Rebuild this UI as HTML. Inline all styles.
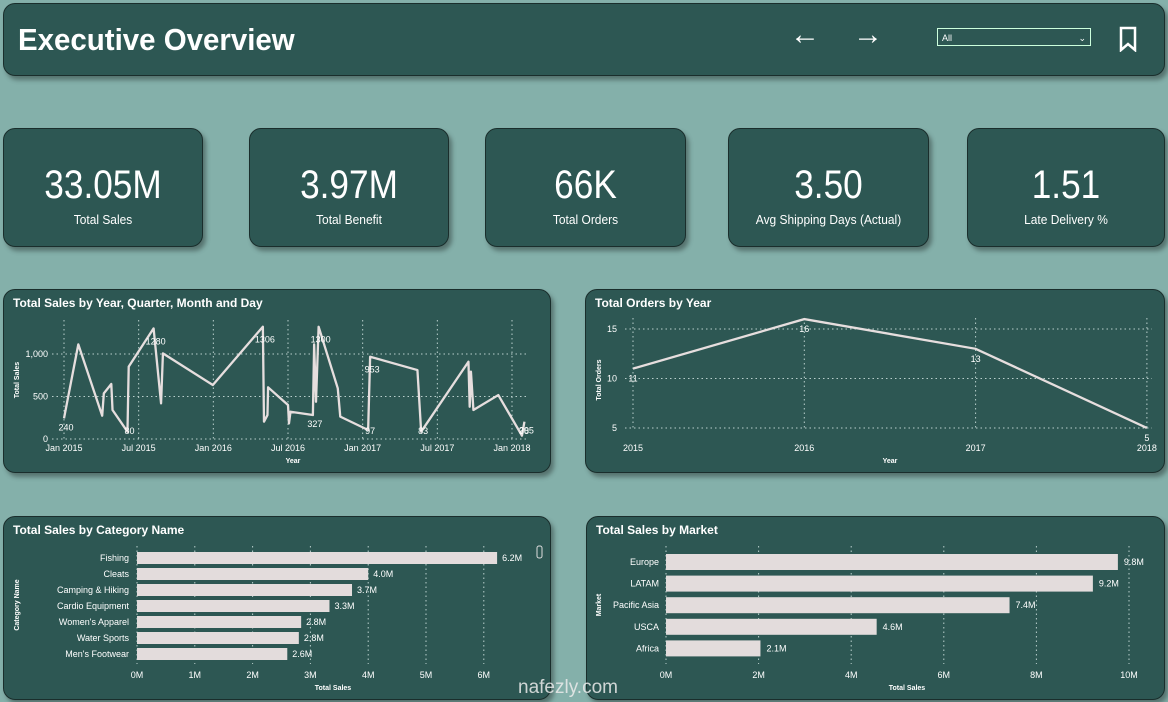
<!DOCTYPE html>
<html><head><meta charset="utf-8"><style>
body{margin:0;width:1168px;height:702px;background:#84b0aa;font-family:"Liberation Sans",sans-serif;position:relative;overflow:hidden}
.p{position:absolute;background:#2d5753;border:1px solid #1a2e2c;border-radius:12px;box-shadow:3px 4px 5px rgba(0,0,0,.35);box-sizing:border-box;color:#fff}
.kv{position:absolute;left:0;right:0;top:34px;text-align:center;font-size:40px;transform:scaleX(0.88)}
.kl{position:absolute;left:0;right:0;top:83px;text-align:center;font-size:13px;transform:scaleX(0.92)}
.t{position:absolute;left:9px;top:6px;font-size:12px;font-weight:bold}
svg{position:absolute;left:0;top:0}
svg text{font-family:"Liberation Sans",sans-serif;fill:#fff}
</style></head><body>
<div class="p" style="left:3px;top:3px;width:1162px;height:73px">
<div style="position:absolute;left:14px;top:18px;font-size:31px;font-weight:bold;transform:scaleX(0.95);transform-origin:left">Executive Overview</div>
<div style="position:absolute;left:786px;top:14px;font-size:30px">←</div>
<div style="position:absolute;left:849px;top:14px;font-size:30px">→</div>
<div style="position:absolute;left:933px;top:24px;width:154px;height:18px;border:1px solid #cfd;font-size:9px;line-height:18px;padding-left:4px;box-sizing:border-box">All<span style="position:absolute;right:4px;top:0">⌄</span></div>
<svg style="left:1114px;top:22px" width="20" height="26"><path d="M3 2h14v22l-7-6-7 6z" fill="none" stroke="#fff" stroke-width="2.5"/></svg>
</div>
<div class="p" style="left:3px;top:128px;width:200px;height:119px"><div class="kv">33.05M</div><div class="kl">Total Sales</div></div>
<div class="p" style="left:249px;top:128px;width:200px;height:119px"><div class="kv">3.97M</div><div class="kl">Total Benefit</div></div>
<div class="p" style="left:485px;top:128px;width:201px;height:119px"><div class="kv">66K</div><div class="kl">Total Orders</div></div>
<div class="p" style="left:728px;top:128px;width:201px;height:119px"><div class="kv">3.50</div><div class="kl">Avg Shipping Days (Actual)</div></div>
<div class="p" style="left:967px;top:128px;width:198px;height:119px"><div class="kv">1.51</div><div class="kl">Late Delivery %</div></div>

<div class="p" style="left:3px;top:289px;width:548px;height:184px"><div class="t">Total Sales by Year, Quarter, Month and Day</div></div>
<div class="p" style="left:585px;top:289px;width:580px;height:184px"><div class="t">Total Orders by Year</div></div>
<div class="p" style="left:3px;top:516px;width:548px;height:184px"><div class="t">Total Sales by Category Name</div></div>
<div class="p" style="left:586px;top:516px;width:579px;height:184px"><div class="t">Total Sales by Market</div></div>
<svg id="c" width="1168" height="702"></svg>
<script>
// sales line chart: months since Jan 2015, values
const salesMonths=[0,1.15,3.07,3.2,3.8,3.9,5.1,5.2,7.2,7.8,7.95,11.96,15.98,16.07,16.35,16.4,18,18.08,18.2,20,20.1,20.25,20.46,22,22.2,24.44,24.6,28.4,28.7,32.5,32.6,32.7,32.9,34.9,36.8,37];
const salesValues=[243,1113,274,537,647,341,86,851,1301,419,1007,635,1321,204,282,608,400,184,321,282,1113,439,1321,596,263,106,968,811,86,909,380,792,341,517,39,204];
const salesLabels=[[0,"240"],[6,"80"],[8,"1280"],[12,"1306"],[22,"1300"],[19,"327"],[26,"953"],[25,"97"],[28,"83"],[35,"205"],[34,"38"]];
const salesXTicks=["Jan 2015","Jul 2015","Jan 2016","Jul 2016","Jan 2017","Jul 2017","Jan 2018"];
const salesYTicks=[0,500,1000];
const orderYears=[2015,2016,2017,2018];
const orderValues=[11,16,13,5];
const orderYTicks=[5,10,15];
const categories=["Fishing","Cleats","Camping & Hiking","Cardio Equipment","Women's Apparel","Water Sports","Men's Footwear"];
const categoryValues=[6.23,4.0,3.72,3.33,2.84,2.8,2.6];
const categoryLabels=["6.2M","4.0M","3.7M","3.3M","2.8M","2.8M","2.6M"];
const categoryTicks=[0,1,2,3,4,5,6];
const markets=["Europe","LATAM","Pacific Asia","USCA","Africa"];
const marketValues=[9.76,9.22,7.42,4.55,2.04];
const marketLabels=["9.8M","9.2M","7.4M","4.6M","2.1M"];
const marketTicks=[0,2,4,6,8,10];

const S=document.getElementById('c'),NS="http://www.w3.org/2000/svg";
function mk(t,a,txt){const e=document.createElementNS(NS,t);for(const k in a)e.setAttribute(k,a[k]);if(txt!==undefined)e.textContent=txt;S.appendChild(e);return e;}
const grid={stroke:"#b9cfcc","stroke-dasharray":"1.5 3","stroke-width":1};

// sales line
const sx=m=>64+m*(512-64)/36, sy=v=>439-v*0.085;
salesXTicks.forEach((t,i)=>{const x=sx(i*6);
 const g=mk('line',Object.assign({x1:x,x2:x,y1:320,y2:439},grid));
 const e=mk('text',{x:x,y:451,"font-size":9,"text-anchor":"middle"},t);});
salesYTicks.forEach(v=>{const y=sy(v);
 const g=mk('line',Object.assign({x1:52,x2:528,y1:y,y2:y},grid));
 const e=mk('text',{x:48,y:y+3,"font-size":9,"text-anchor":"end"},v.toLocaleString('en-US'));});
let pl=mk('polyline',{points:salesMonths.map((m,i)=>sx(m)+","+sy(salesValues[i])).join(" "),fill:"none",stroke:"#e6dede","stroke-width":2.3,"stroke-linejoin":"round"});

salesLabels.forEach(([i,t])=>{const v=salesValues[i];const y=v>600?sy(v)+16:(v<300?sy(v)+12:sy(v)-6);
 const e=mk('text',{x:sx(salesMonths[i])+2,y:Math.min(y,434),"font-size":9,"text-anchor":"middle"},t);});
let e=mk('text',{x:293,y:463,"font-size":7,"font-weight":"bold","text-anchor":"middle"},"Year");
e=mk('text',{x:19,y:380,"font-size":7,"font-weight":"bold","text-anchor":"middle",transform:"rotate(-90 19 380)"},"Total Sales");

// orders line
const ox=y=>633+(y-2015)*171.3, oy=v=>428-(v-5)*9.9;
orderYears.forEach(y=>{const x=ox(y);
 const g=mk('line',Object.assign({x1:x,x2:x,y1:318,y2:430},grid));
 const t=mk('text',{x:x,y:451,"font-size":9,"text-anchor":"middle"},y);});
orderYTicks.forEach(v=>{const y=oy(v);
 const g=mk('line',Object.assign({x1:625,x2:1152,y1:y,y2:y},grid));
 const t=mk('text',{x:617,y:y+3,"font-size":9,"text-anchor":"end"},v);});
pl=mk('polyline',{points:orderYears.map((y,i)=>ox(y)+","+oy(orderValues[i])).join(" "),fill:"none",stroke:"#e6dede","stroke-width":2.3});

orderYears.forEach((y,i)=>{const t=mk('text',{x:ox(y),y:oy(orderValues[i])+13,"font-size":9,"text-anchor":"middle"},orderValues[i]);});
e=mk('text',{x:890,y:463,"font-size":7,"font-weight":"bold","text-anchor":"middle"},"Year");
e=mk('text',{x:601,y:380,"font-size":7,"font-weight":"bold","text-anchor":"middle",transform:"rotate(-90 601 380)"},"Total Orders");

// category bars
const cx=v=>137+v*57.8;
categoryTicks.forEach(v=>{const x=cx(v);
 const g=mk('line',Object.assign({x1:x,x2:x,y1:546,y2:664},grid));
 const t=mk('text',{x:x,y:678,"font-size":9,"text-anchor":"middle"},v+"M");});
categories.forEach((c,i)=>{const y=558+i*16;
 const r=mk('rect',{x:cx(0),y:y-6,width:cx(categoryValues[i])-cx(0),height:12,fill:"#e3dcdc"});
 let t=mk('text',{x:129,y:y+3,"font-size":9,"text-anchor":"end"},c);
 t=mk('text',{x:cx(categoryValues[i])+5,y:y+3,"font-size":9},categoryLabels[i]);});
e=mk('text',{x:333,y:690,"font-size":7,"font-weight":"bold","text-anchor":"middle"},"Total Sales");
e=mk('text',{x:19,y:605,"font-size":7,"font-weight":"bold","text-anchor":"middle",transform:"rotate(-90 19 605)"},"Category Name");
e=mk('rect',{x:537,y:546,width:5,height:12,rx:2,fill:"none",stroke:"#ddd"});

// market bars
const mx=v=>666+v*46.3;
marketTicks.forEach(v=>{const x=mx(v);
 const g=mk('line',Object.assign({x1:x,x2:x,y1:546,y2:664},grid));
 const t=mk('text',{x:x,y:678,"font-size":9,"text-anchor":"middle"},v+"M");});
markets.forEach((c,i)=>{const y=562+i*21.6;
 const r=mk('rect',{x:mx(0),y:y-8,width:mx(marketValues[i])-mx(0),height:16,fill:"#e3dcdc"});
 let t=mk('text',{x:659,y:y+3,"font-size":9,"text-anchor":"end"},c);
 t=mk('text',{x:mx(marketValues[i])+6,y:y+3,"font-size":9},marketLabels[i]);});
e=mk('text',{x:907,y:690,"font-size":7,"font-weight":"bold","text-anchor":"middle"},"Total Sales");
e=mk('text',{x:601,y:605,"font-size":7,"font-weight":"bold","text-anchor":"middle",transform:"rotate(-90 601 605)"},"Market");
e=mk('text',{x:518,y:693,"font-size":19},"nafezly.com");
e.style.fill="rgba(235,235,235,.85)";
</script>
</body></html>
